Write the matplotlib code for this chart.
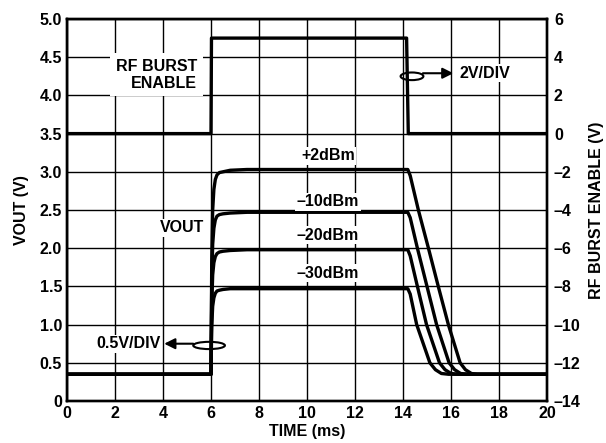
import matplotlib
matplotlib.use('Agg')
import matplotlib.pyplot as plt
from matplotlib.patches import Ellipse

plt.rcParams['font.family'] = ['Liberation Sans', 'DejaVu Sans']
plt.rcParams['font.weight'] = 'bold'
FS = 11.5

# RF burst enable (right axis, V)
ENABLE_T = [0, 6.0, 6.02, 14.15, 14.22, 20]
ENABLE_V = [0, 0, 5.0, 5.0, 0, 0]

# VOUT traces (left axis, V): baseline, rise, plateau, fall, baseline
BASE_T = [0, 6.0]
BASE_V = [0.35, 0.35]
RISE_T = [6.0, 6.03, 6.07, 6.12, 6.18, 6.25, 6.35, 6.5, 6.8, 7.5]
TAIL_T = [20]
TAIL_V = [0.35]

LEVELS = ['+2dBm', '\u201310dBm', '\u201320dBm', '\u201330dBm']
RISE_V = {
    '+2dBm': [0.35, 1.80, 2.50, 2.77, 2.90, 2.96, 2.99, 3.00, 3.02, 3.03],
    '\u201310dBm': [0.35, 1.50, 2.05, 2.26, 2.37, 2.42, 2.44, 2.45, 2.46, 2.47],
    '\u201320dBm': [0.35, 1.25, 1.65, 1.81, 1.89, 1.93, 1.95, 1.96, 1.97, 1.98],
    '\u201330dBm': [0.35, 0.97, 1.24, 1.35, 1.41, 1.44, 1.45, 1.46, 1.47, 1.47],
}
FALL_T = {
    '+2dBm': [14.2, 14.3, 14.64, 15.06, 15.47, 15.89, 16.38, 16.6, 16.85, 17.1],
    '\u201310dBm': [14.2, 14.3, 14.6, 15.0, 15.4, 15.92, 16.15, 16.4, 16.7],
    '\u201320dBm': [14.2, 14.3, 14.6, 14.98, 15.52, 15.75, 16.0, 16.3],
    '\u201330dBm': [14.2, 14.3, 14.57, 15.12, 15.35, 15.6, 15.9],
}
FALL_V = {
    '+2dBm': [3.03, 2.95, 2.5, 2.0, 1.5, 1.0, 0.5, 0.41, 0.36, 0.35],
    '\u201310dBm': [2.47, 2.40, 2.0, 1.5, 1.0, 0.5, 0.41, 0.36, 0.35],
    '\u201320dBm': [1.98, 1.90, 1.5, 1.0, 0.5, 0.41, 0.36, 0.35],
    '\u201330dBm': [1.47, 1.40, 1.0, 0.5, 0.41, 0.36, 0.35],
}
# label positions (time, volts)
LABEL_POS = {
    '+2dBm': (10.87, 3.21),
    '\u201310dBm': (10.87, 2.61),
    '\u201320dBm': (10.87, 2.17),
    '\u201330dBm': (10.87, 1.67),
}

X_TICKS = list(range(0, 21, 2))
Y_TICKS = [0, 0.5, 1.0, 1.5, 2.0, 2.5, 3.0, 3.5, 4.0, 4.5, 5.0]
Y_TICK_LABELS = ['0', '0.5', '1.0', '1.5', '2.0', '2.5', '3.0', '3.5', '4.0', '4.5', '5.0']
Y2_TICKS = list(range(-14, 7, 2))
Y2_TICK_LABELS = [str(v).replace('-', '\u2013') for v in Y2_TICKS]

fig = plt.figure(figsize=(6.06, 4.43), dpi=100)
ax = fig.add_axes([67 / 606, 1 - 401 / 443, 480 / 606, 382 / 443])
ax2 = ax.twinx()

ax.set_xlim(0, 20)
ax.set_ylim(0, 5)
ax2.set_ylim(-14, 6)
ax.set_xticks(X_TICKS)
ax.set_yticks(Y_TICKS)
ax.set_yticklabels(Y_TICK_LABELS)
ax2.set_yticks(Y2_TICKS)
ax2.set_yticklabels(Y2_TICK_LABELS)
ax.tick_params(length=0, pad=3.5, labelsize=FS)
ax2.tick_params(length=0, pad=5, labelsize=FS)
ax.grid(True, color='black', linewidth=1.0)
ax.set_axisbelow(True)
for a in (ax, ax2):
    for sp in a.spines.values():
        sp.set_linewidth(1.7)

ax.set_xlabel('TIME (ms)', fontsize=FS, fontweight='bold', labelpad=2)
ax.set_ylabel('VOUT (V)', fontsize=FS, fontweight='bold', labelpad=8)
ax2.set_ylabel('RF BURST ENABLE (V)', fontsize=FS, fontweight='bold', labelpad=6)

ax2.plot(ENABLE_T, ENABLE_V, color='black', linewidth=2.4, zorder=3)

for lvl in LEVELS:
    t = BASE_T + RISE_T[1:] + FALL_T[lvl] + TAIL_T
    v = BASE_V + RISE_V[lvl][1:] + FALL_V[lvl] + TAIL_V
    ax.plot(t, v, color='black', linewidth=2.4, zorder=3)
    x, y = LABEL_POS[lvl]
    ax.text(x, y, lvl, ha='center', va='center', fontsize=FS, fontweight='bold',
            bbox=dict(facecolor='white', edgecolor='none', pad=1.0), zorder=4)

ax.text(5.42, 4.27, 'RF BURST\nENABLE', ha='right', va='center', fontsize=FS,
        fontweight='bold', linespacing=1.15,
        bbox=dict(facecolor='white', edgecolor='none', pad=4), zorder=4)
ax.text(5.72, 2.27, 'VOUT', ha='right', va='center', fontsize=FS, fontweight='bold',
        bbox=dict(facecolor='white', edgecolor='none', pad=1.0), zorder=4)

# 2V/DIV marker
ax.add_patch(Ellipse((14.375, 4.25), 0.95, 0.10, fill=False, edgecolor='black',
                     linewidth=1.5, zorder=5))
ax.annotate('', xy=(16.1, 4.29), xytext=(14.83, 4.29),
            arrowprops=dict(arrowstyle='-|>', color='black', lw=1.5,
                            mutation_scale=16, shrinkA=0, shrinkB=0), zorder=5)
ax.text(16.35, 4.29, '2V/DIV', ha='left', va='center', fontsize=FS, fontweight='bold',
        bbox=dict(facecolor='white', edgecolor='none', pad=1.0), zorder=4)

# 0.5V/DIV marker
ax.add_patch(Ellipse((5.92, 0.727), 1.32, 0.095, fill=False, edgecolor='black',
                     linewidth=1.5, zorder=5))
ax.annotate('', xy=(4.05, 0.75), xytext=(5.26, 0.75),
            arrowprops=dict(arrowstyle='-|>', color='black', lw=1.5,
                            mutation_scale=16, shrinkA=0, shrinkB=0), zorder=5)
ax.text(3.9, 0.75, '0.5V/DIV', ha='right', va='center', fontsize=FS, fontweight='bold',
        bbox=dict(facecolor='white', edgecolor='none', pad=1.0), zorder=4)

fig.savefig('out.png', dpi=100)
